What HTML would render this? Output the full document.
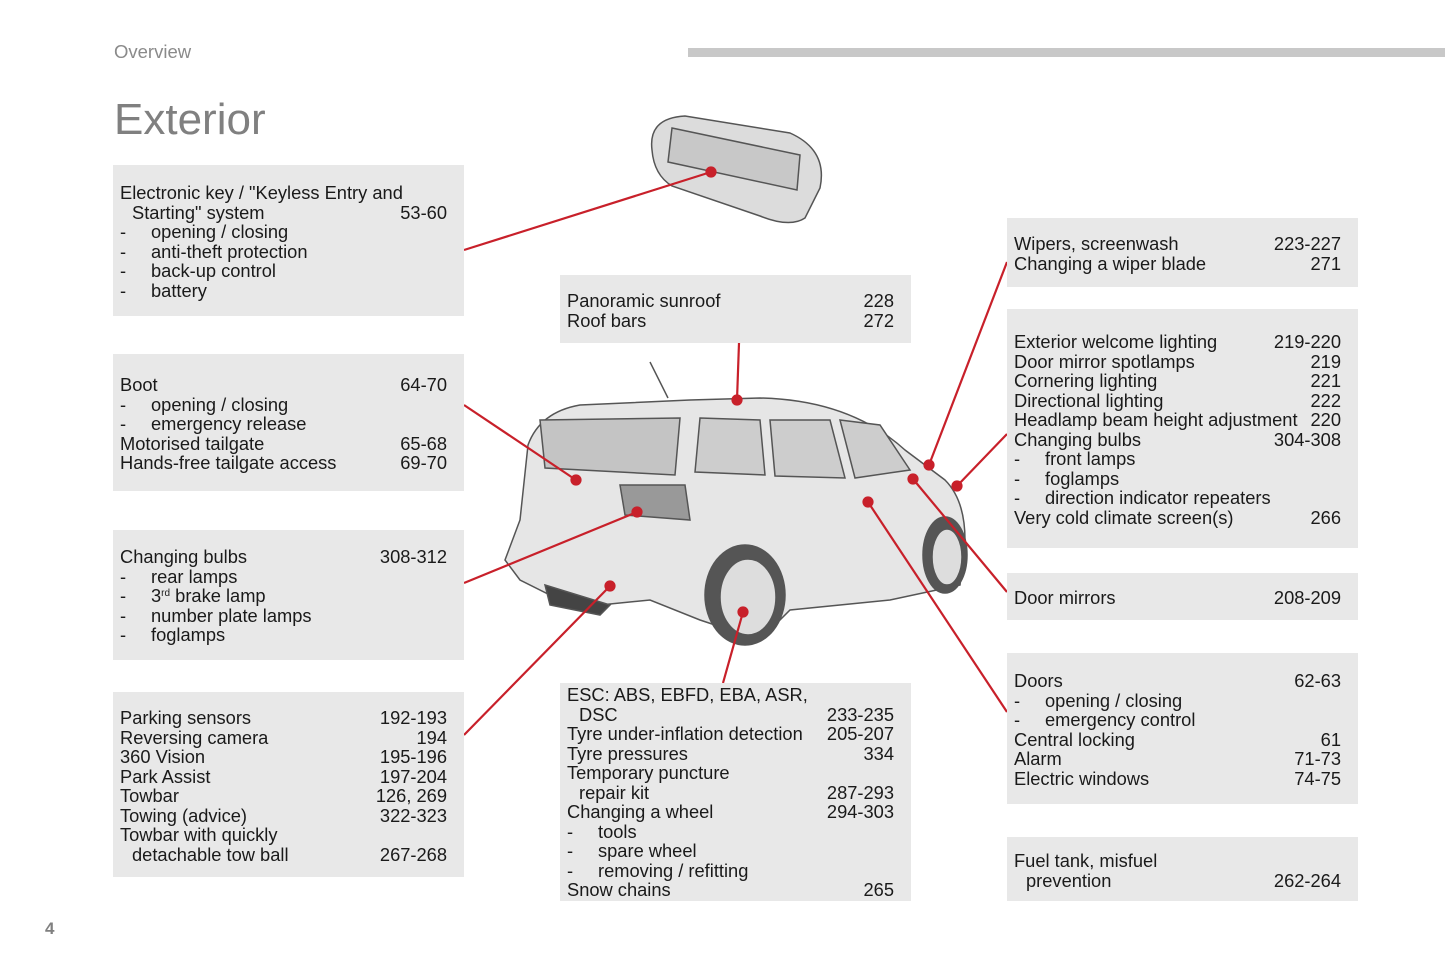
<!DOCTYPE html>
<html><head><meta charset="utf-8"><style>
body{margin:0;width:1445px;height:964px;background:#fff;position:relative;overflow:hidden;font-family:"Liberation Sans",sans-serif;}
.b{position:absolute;background:#e8e8e8;width:351px;box-sizing:border-box;padding-left:7px;padding-right:17px;font-size:18.3px;line-height:19.5px;color:#1a1a1a;}
.r{display:flex;justify-content:space-between;white-space:nowrap;height:19.5px}
.i{padding-left:12px}
.d{display:inline-block;width:31px}
sup{font-size:10px;line-height:0;vertical-align:6px}
</style></head><body>
<div style="position:absolute;left:114px;top:41px;font-size:18.5px;color:#8a8a8a">Overview</div>
<div style="position:absolute;left:688px;top:48px;width:757px;height:9px;background:#c8c8c8"></div>
<div style="position:absolute;left:114px;top:95px;font-size:44px;color:#808080">Exterior</div>
<div style="position:absolute;left:45px;top:919px;font-size:17px;color:#808080;font-weight:bold">4</div>

<svg style="position:absolute;left:0;top:0" width="1445" height="964">
<g stroke="#555" stroke-width="1.5">
<path d="M652 150 Q648 118 685 116 L790 133 Q828 150 820 188 L805 218 Q790 228 760 216 L672 186 Q654 175 652 150Z" fill="#dcdcdc"/>
<path d="M672 128 L800 155 L797 190 L668 162Z" fill="#c8c8c8"/>
<path d="M520 520 L528 445 Q540 412 580 405 L690 400 L760 398 Q850 400 905 450 L945 480 Q965 500 965 540 L960 585 L890 600 L790 610 L760 640 L700 620 L650 600 L600 605 L560 600 L520 580 L505 560Z" fill="#e6e6e6"/>
<path d="M540 420 L680 418 L675 475 L545 468Z" fill="#c4c4c4"/>
<path d="M700 418 L760 420 L765 475 L695 472Z" fill="#cdcdcd"/>
<path d="M770 420 L830 420 L845 478 L775 476Z" fill="#cdcdcd"/>
<path d="M840 420 L880 425 L910 470 L855 478Z" fill="#cdcdcd"/>
<path d="M620 485 L685 485 L690 520 L625 515Z" fill="#999"/>
<ellipse cx="745" cy="595" rx="40" ry="50" fill="#555"/>
<ellipse cx="748" cy="597" rx="28" ry="38" fill="#ddd"/>
<ellipse cx="945" cy="555" rx="22" ry="38" fill="#555"/>
<ellipse cx="947" cy="557" rx="15" ry="28" fill="#ddd"/>
<path d="M545 585 L610 605 L600 615 L550 605Z" fill="#444"/>
<line x1="650" y1="362" x2="668" y2="398"/>
</g>
<g stroke="#c8202a" stroke-width="2.2" fill="#c8202a">
<line x1="464" y1="250" x2="711" y2="172"/><circle cx="711" cy="172" r="4.5"/>
<line x1="464" y1="405" x2="576" y2="480"/><circle cx="576" cy="480" r="4.5"/>
<line x1="464" y1="583" x2="637" y2="512"/><circle cx="637" cy="512" r="4.5"/>
<line x1="464" y1="735" x2="610" y2="586"/><circle cx="610" cy="586" r="4.5"/>
<line x1="739" y1="343" x2="737" y2="400"/><circle cx="737" cy="400" r="4.5"/>
<line x1="723" y1="683" x2="743" y2="612"/><circle cx="743" cy="612" r="4.5"/>
<line x1="1007" y1="262" x2="929" y2="465"/><circle cx="929" cy="465" r="4.5"/>
<line x1="1007" y1="434" x2="957" y2="486"/><circle cx="957" cy="486" r="4.5"/>
<line x1="1007" y1="592" x2="913" y2="479"/><circle cx="913" cy="479" r="4.5"/>
<line x1="1007" y1="712" x2="868" y2="502"/><circle cx="868" cy="502" r="4.5"/>
</g>
</svg>

<div class="b" style="left:113px;top:165px;height:151px;padding-top:18px">
<div class="r"><span>Electronic key / "Keyless Entry and</span></div>
<div class="r"><span class="i">Starting" system</span><span>53-60</span></div>
<div class="r"><span><span class="d">-</span>opening / closing</span></div>
<div class="r"><span><span class="d">-</span>anti-theft protection</span></div>
<div class="r"><span><span class="d">-</span>back-up control</span></div>
<div class="r"><span><span class="d">-</span>battery</span></div>
</div>
<div class="b" style="left:113px;top:354px;height:137px;padding-top:21px">
<div class="r"><span>Boot</span><span>64-70</span></div>
<div class="r"><span><span class="d">-</span>opening / closing</span></div>
<div class="r"><span><span class="d">-</span>emergency release</span></div>
<div class="r"><span>Motorised tailgate</span><span>65-68</span></div>
<div class="r"><span>Hands-free tailgate access</span><span>69-70</span></div>
</div>
<div class="b" style="left:113px;top:530px;height:130px;padding-top:17px">
<div class="r"><span>Changing bulbs</span><span>308-312</span></div>
<div class="r"><span><span class="d">-</span>rear lamps</span></div>
<div class="r"><span><span class="d">-</span>3<sup>rd</sup> brake lamp</span></div>
<div class="r"><span><span class="d">-</span>number plate lamps</span></div>
<div class="r"><span><span class="d">-</span>foglamps</span></div>
</div>
<div class="b" style="left:113px;top:692px;height:185px;padding-top:16px">
<div class="r"><span>Parking sensors</span><span>192-193</span></div>
<div class="r"><span>Reversing camera</span><span>194</span></div>
<div class="r"><span>360 Vision</span><span>195-196</span></div>
<div class="r"><span>Park Assist</span><span>197-204</span></div>
<div class="r"><span>Towbar</span><span>126, 269</span></div>
<div class="r"><span>Towing (advice)</span><span>322-323</span></div>
<div class="r"><span>Towbar with quickly</span></div>
<div class="r"><span class="i">detachable tow ball</span><span>267-268</span></div>
</div>
<div class="b" style="left:560px;top:275px;height:68px;padding-top:16px">
<div class="r"><span>Panoramic sunroof</span><span>228</span></div>
<div class="r"><span>Roof bars</span><span>272</span></div>
</div>
<div class="b" style="left:560px;top:683px;height:218px;padding-top:2px">
<div class="r"><span>ESC: ABS, EBFD, EBA, ASR,</span></div>
<div class="r"><span class="i">DSC</span><span>233-235</span></div>
<div class="r"><span>Tyre under-inflation detection</span><span>205-207</span></div>
<div class="r"><span>Tyre pressures</span><span>334</span></div>
<div class="r"><span>Temporary puncture</span></div>
<div class="r"><span class="i">repair kit</span><span>287-293</span></div>
<div class="r"><span>Changing a wheel</span><span>294-303</span></div>
<div class="r"><span><span class="d">-</span>tools</span></div>
<div class="r"><span><span class="d">-</span>spare wheel</span></div>
<div class="r"><span><span class="d">-</span>removing / refitting</span></div>
<div class="r"><span>Snow chains</span><span>265</span></div>
</div>
<div class="b" style="left:1007px;top:218px;height:69px;padding-top:16px">
<div class="r"><span>Wipers, screenwash</span><span>223-227</span></div>
<div class="r"><span>Changing a wiper blade</span><span>271</span></div>
</div>
<div class="b" style="left:1007px;top:309px;height:239px;padding-top:23px">
<div class="r"><span>Exterior welcome lighting</span><span>219-220</span></div>
<div class="r"><span>Door mirror spotlamps</span><span>219</span></div>
<div class="r"><span>Cornering lighting</span><span>221</span></div>
<div class="r"><span>Directional lighting</span><span>222</span></div>
<div class="r"><span>Headlamp beam height adjustment</span><span>220</span></div>
<div class="r"><span>Changing bulbs</span><span>304-308</span></div>
<div class="r"><span><span class="d">-</span>front lamps</span></div>
<div class="r"><span><span class="d">-</span>foglamps</span></div>
<div class="r"><span><span class="d">-</span>direction indicator repeaters</span></div>
<div class="r"><span>Very cold climate screen(s)</span><span>266</span></div>
</div>
<div class="b" style="left:1007px;top:573px;height:47px;padding-top:15px">
<div class="r"><span>Door mirrors</span><span>208-209</span></div>
</div>
<div class="b" style="left:1007px;top:653px;height:151px;padding-top:18px">
<div class="r"><span>Doors</span><span>62-63</span></div>
<div class="r"><span><span class="d">-</span>opening / closing</span></div>
<div class="r"><span><span class="d">-</span>emergency control</span></div>
<div class="r"><span>Central locking</span><span>61</span></div>
<div class="r"><span>Alarm</span><span>71-73</span></div>
<div class="r"><span>Electric windows</span><span>74-75</span></div>
</div>
<div class="b" style="left:1007px;top:837px;height:64px;padding-top:14px">
<div class="r"><span>Fuel tank, misfuel</span></div>
<div class="r"><span class="i">prevention</span><span>262-264</span></div>
</div>
</body></html>
